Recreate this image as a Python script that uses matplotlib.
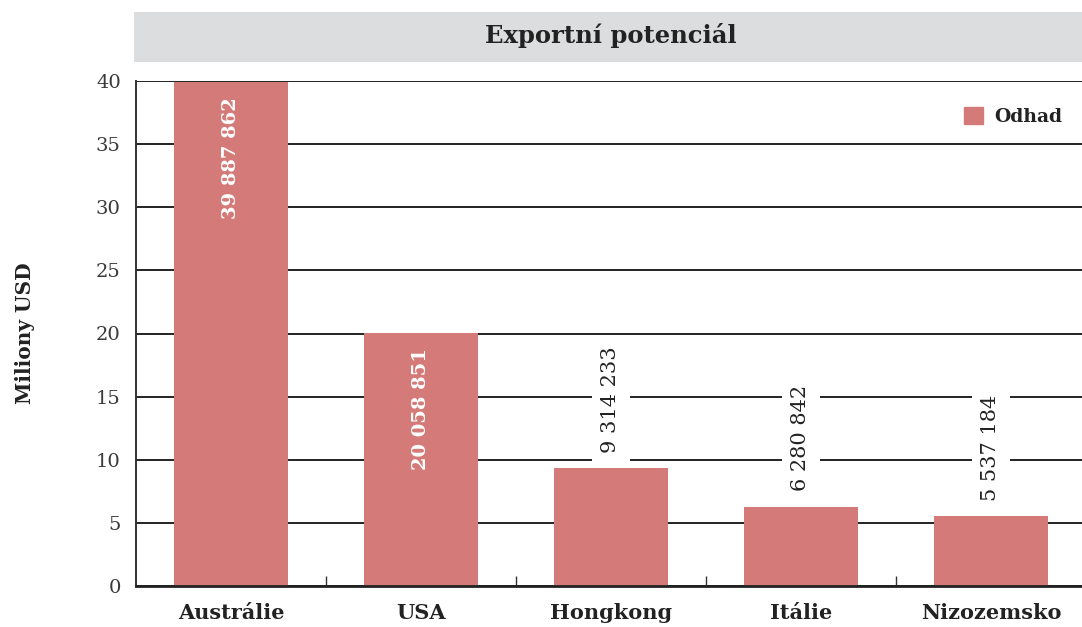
import matplotlib
matplotlib.use('Agg')
import matplotlib.pyplot as plt
from matplotlib.patches import Rectangle, Patch

# data
zeme = ['Austrálie', 'USA', 'Hongkong', 'Itálie', 'Nizozemsko']
odhad = [39887862, 20058851, 9314233, 6280842, 5537184]
yticks = [0, 5, 10, 15, 20, 25, 30, 35, 40]

barva = '#D47B7A'
plt.rcParams['font.family'] = ['DejaVu Serif']

fig = plt.figure(figsize=(10.82, 6.27), dpi=100)
ax = fig.add_axes([136/1082, 41/627, 950/1082, 505/627])

hodnoty = [v / 1e6 for v in odhad]
x = range(len(zeme))
ax.bar(x, hodnoty, width=0.6, color=barva, zorder=3)

ax.set_xlim(-0.5, 4.5)
ax.set_ylim(0, 40)
ax.set_yticks(yticks)
ax.set_yticklabels([str(t) for t in yticks], fontsize=14, color='#3a3a3a')
ax.set_xticks(list(x))
ax.set_xticklabels(zeme, fontsize=15, fontweight='bold', color='#222222')
ax.tick_params(axis='x', length=0, pad=12)
ax.tick_params(axis='y', length=0, pad=11)
ax.set_xticks([i + 0.5 for i in range(4)], minor=True)
ax.tick_params(axis='x', which='minor', direction='in', length=7, width=1, color='#333333')

ax.grid(axis='y', color='#222222', linewidth=1.4, zorder=0)
for s in ['top', 'right']:
    ax.spines[s].set_visible(False)
ax.spines['left'].set_color('#333333')
ax.spines['left'].set_linewidth(1.4)
ax.spines['bottom'].set_color('#222222')
ax.spines['bottom'].set_linewidth(2)
ax.spines['bottom'].set_zorder(4)

ax.set_ylabel('Miliony USD', fontsize=14.5, fontweight='bold', color='#222222', labelpad=44)

# popisky hodnot
for i, v in enumerate(odhad):
    txt = f'{v:,}'.replace(',', ' ')
    h = v / 1e6
    if h > 15:
        ax.annotate(txt, (i, h), xytext=(0, -11), textcoords='offset points',
                    rotation=90, ha='center', va='top', color='white',
                    fontsize=14, fontweight='bold', zorder=5)
    else:
        ax.annotate(txt, (i, h), xytext=(0, 11), textcoords='offset points',
                    rotation=90, ha='center', va='bottom', color='#222222',
                    fontsize=15, zorder=5,
                    bbox=dict(facecolor='white', edgecolor='none', pad=7))

leg = ax.legend(handles=[Patch(color=barva, label='Odhad')], loc='upper right',
                bbox_to_anchor=(0.993, 0.982), frameon=False, handlelength=1,
                handleheight=1, handletextpad=0.6,
                prop={'size': 13.5, 'weight': 'bold'})
for t in leg.get_texts():
    t.set_color('#222222')

# titulek v seda liste
fig.patches.append(Rectangle((134/1082, 1 - 62/627), 948/1082, 50/627,
                             transform=fig.transFigure, facecolor='#DCDDDF',
                             edgecolor='none'))
fig.text(611/1082, 1 - 36/627, 'Exportní potenciál', ha='center', va='center',
         fontsize=17.5, fontweight='bold', color='#222222')

fig.savefig('out.png', dpi=100)
